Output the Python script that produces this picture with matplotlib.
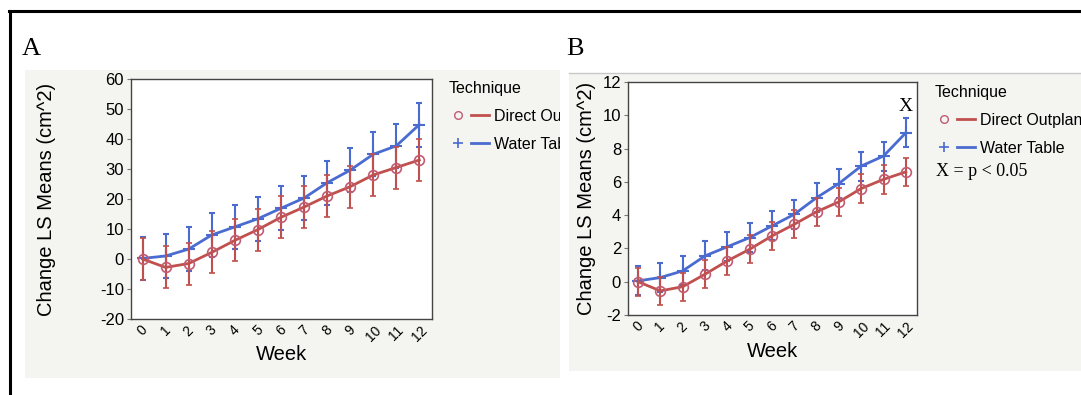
import matplotlib
matplotlib.use('Agg')
import matplotlib.pyplot as plt
from matplotlib.lines import Line2D
from matplotlib.patches import Rectangle
from matplotlib.legend_handler import HandlerTuple

plt.rcParams['font.family'] = ['Liberation Sans', 'DejaVu Sans']
plt.rcParams['axes.unicode_minus'] = False

# data
weeks = list(range(13))
week_labels = [str(w) for w in weeks]
techniques = ['Direct Outplant', 'Water Table']

a_direct = [0.0, -2.8, -1.5, 2.2, 6.2, 9.8, 13.9, 17.3, 21.0, 24.1, 28.0, 30.5, 33.0]
a_direct_err = [7.0, 7.0, 7.0, 7.0, 7.0, 7.0, 7.0, 7.0, 7.0, 7.0, 7.0, 7.0, 7.0]
a_water = [0.2, 1.0, 3.3, 8.0, 10.7, 13.4, 16.9, 20.3, 25.4, 29.6, 34.9, 37.7, 44.8]
a_water_err = [7.2, 7.3, 7.3, 7.3, 7.3, 7.3, 7.3, 7.3, 7.3, 7.3, 7.3, 7.3, 7.3]

b_direct = [0.0, -0.55, -0.3, 0.45, 1.25, 1.95, 2.75, 3.45, 4.2, 4.8, 5.6, 6.15, 6.6]
b_direct_err = [0.85, 0.85, 0.85, 0.85, 0.85, 0.85, 0.85, 0.85, 0.85, 0.85, 0.85, 0.85, 0.85]
b_water = [0.05, 0.25, 0.65, 1.55, 2.1, 2.65, 3.35, 4.05, 5.05, 5.9, 6.95, 7.55, 8.95]
b_water_err = [0.87, 0.87, 0.87, 0.87, 0.87, 0.87, 0.87, 0.87, 0.87, 0.87, 0.87, 0.87, 0.87]

RED = '#c0504d'
RED_MK = '#c25a72'
BLUE = '#4a6bd0'
W, H = 1081, 395

fig = plt.figure(figsize=(W / 100, H / 100), dpi=100)


def fx(px):
    return px / W


def fy(py):
    return 1 - py / H


def panel(ax, direct, derr, water, werr, ylim, yticks, xlim):
    ax.errorbar(weeks, water, yerr=werr, color=BLUE, lw=2, marker='+', ms=8,
                mew=1.5, elinewidth=1.5, capsize=2.5, capthick=1.2, zorder=2)
    ax.errorbar(weeks, direct, yerr=derr, color=RED, lw=2, marker='o', ms=7,
                mfc='none', mec=RED_MK, mew=1.2, elinewidth=1.5, capsize=2.5,
                capthick=1.2, zorder=3)
    ax.set_xlim(*xlim)
    ax.set_ylim(*ylim)
    ax.set_yticks(yticks)
    ax.set_xticks(weeks)
    ax.set_xticklabels(week_labels, rotation=45, ha='center', va='top', fontsize=10)
    ax.tick_params(axis='x', length=0, pad=3)
    ax.tick_params(axis='y', length=3, width=0.8, color='#777777', labelsize=12, pad=2)
    for s in ax.spines.values():
        s.set_color('#444444')
        s.set_linewidth(1)
    ax.set_facecolor('white')
    ax.set_xlabel('Week', fontsize=14.5)
    ax.set_ylabel('Change LS Means (cm^2)', fontsize=14.5)

    h_d = (Line2D([], [], ls='none', marker='o', ms=5.5, mfc='none', mec=RED_MK, mew=1),
           Line2D([], [], color=RED, lw=2))
    h_w = (Line2D([], [], ls='none', marker='+', ms=7, mec=BLUE, mew=1.2),
           Line2D([], [], color=BLUE, lw=2))
    return [h_d, h_w]


def legend(ax, handles, x, y):
    return ax.legend(handles, techniques, title='Technique', loc='upper left',
                     bbox_to_anchor=(fx(x), fy(y)), bbox_transform=fig.transFigure,
                     frameon=False, fontsize=11.5, title_fontsize=11.5, alignment='left',
                     handlelength=2.5, handletextpad=0.3, labelspacing=0.8,
                     borderpad=0, borderaxespad=0,
                     handler_map={tuple: HandlerTuple(ndivide=None, pad=0.25)})


# outer frame (top and left edges)
fig.add_artist(Line2D([fx(9), 1], [fy(11), fy(11)], color='black', lw=2.2, zorder=10))
fig.add_artist(Line2D([fx(10), fx(10)], [fy(11), 0], color='black', lw=2.2, zorder=10))

# panel backgrounds
fig.add_artist(Rectangle((fx(25), fy(378)), fx(560 - 25), (378 - 70) / H,
                         facecolor='#f4f4f1', edgecolor='none', zorder=-2))
fig.add_artist(Rectangle((fx(560), fy(380)), fx(569 - 560), (380 - 60) / H,
                         facecolor='white', edgecolor='none', zorder=2))
fig.add_artist(Rectangle((fx(569), fy(371)), 1 - fx(569), (371 - 73) / H,
                         facecolor='#f4f4f1', edgecolor='none', zorder=2))
fig.add_artist(Line2D([fx(569), 1], [fy(73), fy(73)], color='#c8c8c8', lw=1, zorder=2))

# panel A
axA = fig.add_axes([fx(131), fy(319), fx(432 - 131), (319 - 79) / H])
axA.set_zorder(0)
hA = panel(axA, a_direct, a_direct_err, a_water, a_water_err,
           (-20, 60), list(range(-20, 61, 10)), (-0.5, 12.55))
axA.yaxis.set_label_coords(-0.25, 0.5)
axA.xaxis.set_label_coords(0.5, -0.11)
legend(axA, hA, 449, 81)

# panel B
axB = fig.add_axes([fx(628), fy(315), fx(917 - 628), (315 - 82) / H])
axB.set_zorder(3)
hB = panel(axB, b_direct, b_direct_err, b_water, b_water_err,
           (-2, 12), list(range(-2, 13, 2)), (-0.45, 12.5))
axB.yaxis.set_label_coords(-0.112, 0.5)
axB.xaxis.set_label_coords(0.5, -0.115)
axB.text(12, 10.5, 'X', ha='center', va='center', fontsize=14,
         family=['Liberation Serif', 'DejaVu Serif'])
legend(axB, hB, 935, 85)
fig.text(fx(936), fy(172), 'X = p < 0.05', ha='left', va='center', fontsize=13,
         family=['Liberation Serif', 'DejaVu Serif'], zorder=5)

# panel letters
fig.text(fx(22), fy(49), 'A', ha='left', va='center', fontsize=19,
         family=['Liberation Serif', 'DejaVu Serif'], zorder=5)
fig.text(fx(566), fy(49), 'B', ha='left', va='center', fontsize=19,
         family=['Liberation Serif', 'DejaVu Serif'], zorder=5)

fig.savefig('out.png', dpi=100, facecolor='white')
